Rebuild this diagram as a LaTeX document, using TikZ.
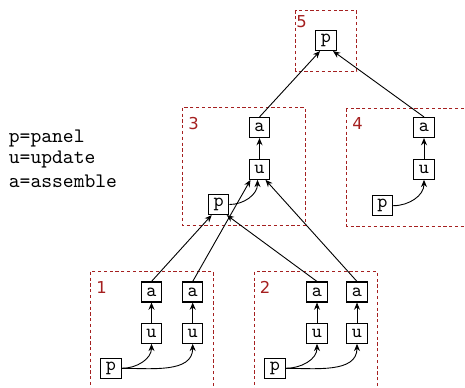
\documentclass[tikz,border=0pt]{standalone}
\usepackage{fontspec}
\newfontfamily\tagfont{DejaVu Sans}
\usetikzlibrary{arrows.meta}
\definecolor{clusterred}{HTML}{A52020}
\begin{document}
\begin{tikzpicture}[x=0.5pt,y=-0.5pt,
  op/.style={draw=black,fill=white,line width=0.55pt,minimum width=10.2pt,minimum height=10pt,
    inner sep=0pt,font=\ttfamily\fontsize{9.6}{10}\selectfont},
  cluster/.style={draw=clusterred,line width=0.7pt,dash pattern=on 1.6pt off 1.3pt},
  tag/.style={text=clusterred,font=\tagfont\fontsize{8.2}{9}\selectfont,inner sep=0pt},
  dep/.style={-{Stealth[length=3.6pt,width=3pt]},line width=0.45pt},
  legend/.style={anchor=west,inner sep=0pt,font=\ttfamily\fontsize{10.3}{11}\selectfont}]
\useasboundingbox (0,0) rectangle (465,387);
\clip (0,0) rectangle (465,387);

% clusters
\draw[cluster] (295.7,10.3) rectangle (356.7,71.3);
\draw[cluster] (182.7,107.7) rectangle (305.3,225.3);
\draw[cluster] (346.7,108.3) rectangle (470,226.3);
\draw[cluster] (90.7,271.7) rectangle (213.3,395);
\draw[cluster] (254.3,271.7) rectangle (377.3,395);

\node[tag] (t5) at (301.5,21.3) {5};
\node[tag] (t3) at (193.7,123.3) {3};
\node[tag] (t4) at (357.5,123.6) {4};
\node[tag] (t1) at (101.5,287.3) {1};
\node[tag] (t2) at (265,287.3) {2};

% legend
\node[legend] (l1) at (8.5,138.3) {p=panel};
\node[legend] (l2) at (8.5,159.8) {u=update};
\node[legend] (l3) at (8.5,181.5) {a=assemble};

% operations
\node[op] (p5) at (326,40.5) {p};

\node[op] (a3) at (259.5,127.5) {a};
\node[op] (u3) at (259.5,169.3) {u};
\node[op] (p3) at (218.7,204.5) {p};

\node[op] (a4) at (424,127.5) {a};
\node[op] (u4) at (424,169.3) {u};
\node[op] (p4) at (382.5,205.7) {p};

\node[op] (a1a) at (151.5,292) {a};
\node[op] (a1b) at (192.7,292) {a};
\node[op] (u1a) at (151.5,333.3) {u};
\node[op] (u1b) at (192.7,333.3) {u};
\node[op] (p1) at (111,368.3) {p};

\node[op] (a2a) at (317,292) {a};
\node[op] (a2b) at (357,292) {a};
\node[op] (u2a) at (317,333.3) {u};
\node[op] (u2b) at (357,333.3) {u};
\node[op] (p2) at (275,368.3) {p};

% cluster 1
\draw[dep] (p1.east) to[out=0,in=-90] (u1a.south);
\draw[dep] (p1.east) to[out=0,in=-90] (u1b.south);
\draw[dep] (u1a) -- (a1a);
\draw[dep] (u1b) -- (a1b);

% cluster 2
\draw[dep] (p2.east) to[out=0,in=-90] (u2a.south);
\draw[dep] (p2.east) to[out=0,in=-90] (u2b.south);
\draw[dep] (u2a) -- (a2a);
\draw[dep] (u2b) -- (a2b);

% cluster 3
\draw[dep] (p3.east) to[out=0,in=-90] ([xshift=-1pt]u3.south);
\draw[dep] (u3) -- (a3);
\draw[dep] (a1a.north) -- ([xshift=-3.5pt]p3.south);
\draw[dep] (a2a.north) -- ([xshift=4pt]p3.south);
\draw[dep] (a1b.north) -- ([xshift=-4.5pt]u3.south);
\draw[dep] (a2b.north) -- ([xshift=3pt]u3.south);

% cluster 4
\draw[dep] (p4.east) to[out=0,in=-90] (u4.south);
\draw[dep] (u4) -- (a4);

% cluster 5
\draw[dep] (a3.north) -- ([xshift=-3pt]p5.south);
\draw[dep] (a4.north) -- ([xshift=3.5pt]p5.south);
\end{tikzpicture}
\end{document}
